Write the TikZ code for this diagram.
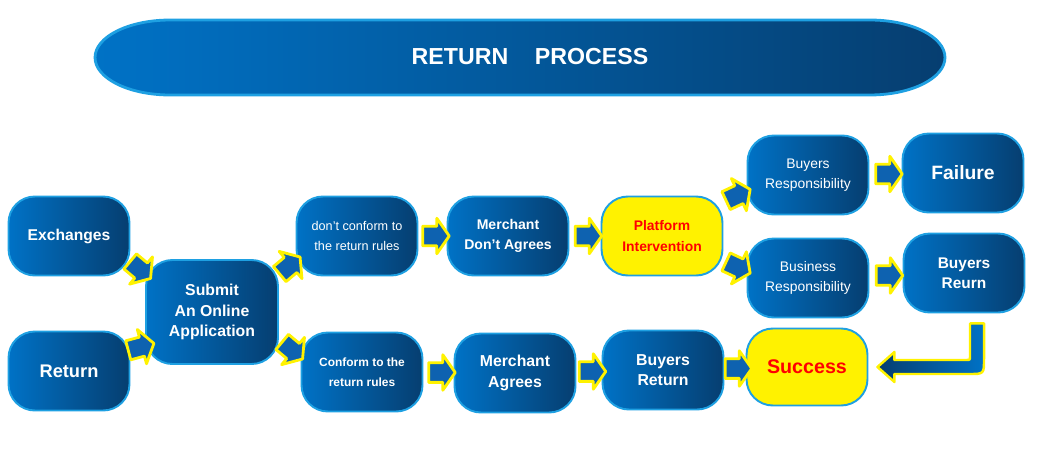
\documentclass[tikz,border=0pt]{standalone}
\usepackage{fontspec}
\setmainfont{Liberation Sans}
\usetikzlibrary{shapes.arrows,calc}
\definecolor{boxlight}{RGB}{0,114,198}
\definecolor{boxdark}{RGB}{6,62,112}
\definecolor{boxedge}{RGB}{30,160,226}
\definecolor{arrowblue}{RGB}{14,98,176}
\begin{document}
\begin{tikzpicture}[x=0.02cm,y=-0.02cm,line join=round,
	base/.style={rounded corners=15pt,draw=boxedge,line width=1.1pt,align=center,minimum width=2.42cm,minimum height=1.58cm,inner sep=0pt},
	box/.style={base,left color=boxlight,right color=boxdark,text=white},
	hot/.style={base,fill=yellow,text=red},
	blk/.style={single arrow,draw=yellow,line width=1.6pt,fill=arrowblue,minimum height=12pt,single arrow head extend=4.5pt,single arrow tip angle=110,inner sep=4.8pt},
	fb/.style={font=\bfseries\fontsize{#1}{11.5}\selectfont},
	fr/.style={font=\fontsize{#1}{11.3}\selectfont}]
	\useasboundingbox (0,0) rectangle (1043,456);
	\draw[draw=boxedge,line width=1.6pt,left color=boxlight,right color=boxdark] (170,20) -- (870,20) arc[start angle=90,end angle=-90,x radius=1.5cm,y radius=0.75cm] -- (170,95) arc[start angle=270,end angle=90,x radius=1.5cm,y radius=0.75cm] -- cycle;
	\node[text=white,fb=13.2] (title) at (530,57) {RETURN\hspace{1.15em}PROCESS};
	\node[box,fb=8.9] (exch) at (69,236) {Exchanges};
	\node[box,fb=10.4] (ret) at (69,371) {Return};
	\node[box,fb=9,minimum width=2.64cm,minimum height=2.08cm] (subm) at (212,312) {Submit\\An Online\\Application};
	\node[box,fr=7.2] (dnc) at (357,236) {don't conform to\\the return rules};
	\node[box,fb=6.8] (conf) at (362,372) {Conform to the\\return rules};
	\node[box,fb=8] (mda) at (508,236) {Merchant\\Don’t Agrees};
	\node[hot,fb=7.9] (pi) at (662,236) {Platform\\Intervention};
	\node[box,fb=9] (ma) at (515,373) {Merchant\\Agrees};
	\node[box,fb=9] (bret) at (663,370) {Buyers\\Return};
	\node[hot,fb=11.2,minimum height=1.54cm] (succ) at (807,367) {Success};
	\node[box,fr=7.9] (byr) at (808,175) {Buyers\\Responsibility};
	\node[box,fr=7.9] (bzr) at (808,278) {Business\\Responsibility};
	\node[box,fb=11] (fail) at (963,173) {Failure};
	\node[box,fb=8.8] (brr) at (964,273) {Buyers\\Reurn};
	\node[blk,rotate=-40] at ($(exch.south east)!0.5!(subm.north west)$) {};
	\node[blk,rotate=15] at ($(ret.north east)!0.5!(subm.south west)$) {};
	\node[blk,rotate=40] at ($(subm.north east)!0.5!(dnc.south west)$) {};
	\node[blk,rotate=-40] at ($(subm.south east)!0.5!(conf.north west)$) {};
	\node[blk] at ($(dnc.east)!0.5!(mda.west)$) {};
	\node[blk] at ($(conf.east)!0.5!(ma.west)$) {};
	\node[blk] at ($(mda.east)!0.5!(pi.west)$) {};
	\node[blk] at ($(ma.east)!0.5!(bret.west)$) {};
	\node[blk] at ($(bret.east)!0.5!(succ.west)$) {};
	\node[blk,rotate=25] at ($(pi.north east)!0.5!(byr.200)$) {};
	\node[blk,rotate=-25] at ($(pi.south east)!0.5!(bzr.160)$) {};
	\node[blk] at ($(byr.east)!0.5!(fail.west)$) {};
	\node[blk] at ($(bzr.east)!0.5!(brr.west)$) {};
	\coordinate (rt) at ($(brr.south)+(13,10)$);
	\coordinate (rh) at ($(succ.east)+(9,0)$);
	\coordinate (rc) at (rt|-rh);
	\draw[draw=yellow,line width=1.4pt,left color=boxdark,right color=boxlight] ($(rt)+(-7,0)$) -- ($(rt)+(7,0)$) -- ($(rc)+(7,-8)$) .. controls ($(rc)+(7,7)$) .. ($(rc)+(-8,7)$) -- ($(rh)+(17,7)$) -- ($(rh)+(17,15)$) -- (rh) -- ($(rh)+(17,-15)$) -- ($(rh)+(17,-7)$) -- ($(rc)+(-11,-7)$) .. controls ($(rc)+(-7,-7)$) .. ($(rc)+(-7,-11)$) -- cycle;
\end{tikzpicture}
\end{document}
